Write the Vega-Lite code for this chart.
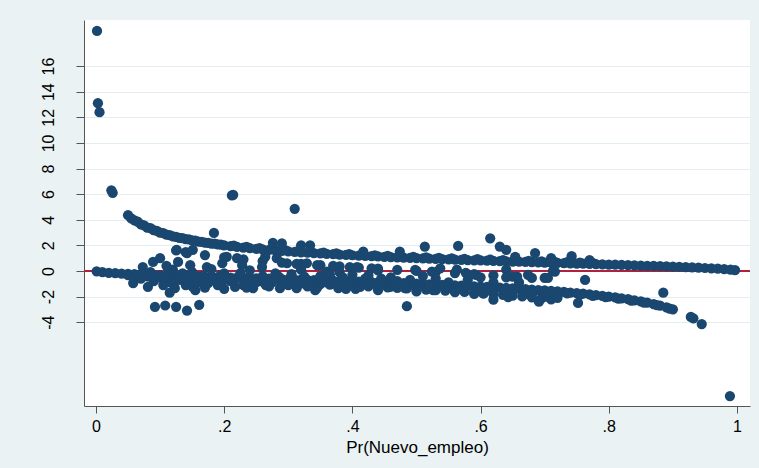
{
  "$schema": "https://vega.github.io/schema/vega-lite/v6.json",
  "width": 666,
  "height": 386,
  "autosize": {"type": "none"},
  "padding": {"left": 84, "top": 20, "right": 9, "bottom": 62},
  "background": "#eaf2f3",
  "config": {
    "view": {"fill": "white", "stroke": null},
    "font": "Liberation Sans"
  },
  "data": {
    "values": [
      {"p":0.0016,"r":18.75},{"p":0.003,"r":13.1},{"p":0.0055,"r":12.4},{"p":0.024,"r":6.3},{"p":0.026,"r":6.1},
      {"p":0.05,"r":4.359},{"p":0.06,"r":3.958},{"p":0.07,"r":3.645},{"p":0.08,"r":3.391},{"p":0.09,"r":3.18},{"p":0.10,"r":3.0},
      {"p":0.11,"r":2.844},{"p":0.12,"r":2.708},{"p":0.13,"r":2.587},{"p":0.14,"r":2.478},{"p":0.15,"r":2.38},{"p":0.16,"r":2.291},
      {"p":0.17,"r":2.21},{"p":0.18,"r":2.134},{"p":0.19,"r":2.065},{"p":0.20,"r":2.0},{"p":0.21,"r":1.94},{"p":0.22,"r":1.883},
      {"p":0.23,"r":1.83},{"p":0.24,"r":1.78},{"p":0.25,"r":1.732},{"p":0.26,"r":1.687},{"p":0.27,"r":1.644},{"p":0.28,"r":1.604},
      {"p":0.29,"r":1.565},{"p":0.30,"r":1.528},{"p":0.31,"r":1.492},{"p":0.32,"r":1.458},{"p":0.33,"r":1.425},{"p":0.34,"r":1.393},
      {"p":0.35,"r":1.363},{"p":0.36,"r":1.333},{"p":0.37,"r":1.305},{"p":0.38,"r":1.277},{"p":0.39,"r":1.251},{"p":0.40,"r":1.225},
      {"p":0.41,"r":1.2},{"p":0.42,"r":1.175},{"p":0.43,"r":1.151},{"p":0.44,"r":1.128},{"p":0.45,"r":1.106},{"p":0.46,"r":1.083},
      {"p":0.47,"r":1.062},{"p":0.48,"r":1.041},{"p":0.49,"r":1.02},{"p":0.50,"r":1.0},{"p":0.51,"r":0.98},{"p":0.52,"r":0.961},
      {"p":0.53,"r":0.942},{"p":0.54,"r":0.923},{"p":0.55,"r":0.905},{"p":0.56,"r":0.886},{"p":0.57,"r":0.869},{"p":0.58,"r":0.851},
      {"p":0.59,"r":0.834},{"p":0.60,"r":0.816},{"p":0.61,"r":0.8},{"p":0.62,"r":0.783},{"p":0.63,"r":0.766},{"p":0.64,"r":0.75},
      {"p":0.65,"r":0.734},{"p":0.66,"r":0.718},{"p":0.67,"r":0.702},{"p":0.68,"r":0.686},{"p":0.69,"r":0.67},{"p":0.70,"r":0.655},
      {"p":0.71,"r":0.639},{"p":0.72,"r":0.624},{"p":0.73,"r":0.608},{"p":0.74,"r":0.593},{"p":0.75,"r":0.577},{"p":0.76,"r":0.562},
      {"p":0.77,"r":0.547},{"p":0.78,"r":0.531},{"p":0.79,"r":0.516},{"p":0.80,"r":0.5},{"p":0.81,"r":0.484},{"p":0.82,"r":0.469},
      {"p":0.83,"r":0.453},{"p":0.84,"r":0.436},{"p":0.85,"r":0.42},{"p":0.86,"r":0.403},{"p":0.87,"r":0.387},{"p":0.88,"r":0.369},
      {"p":0.89,"r":0.352},{"p":0.90,"r":0.333},{"p":0.91,"r":0.314},{"p":0.92,"r":0.295},{"p":0.93,"r":0.274},{"p":0.94,"r":0.253},
      {"p":0.95,"r":0.229},{"p":0.96,"r":0.204},{"p":0.97,"r":0.176},{"p":0.98,"r":0.143},{"p":0.99,"r":0.1},{"p":0.997,"r":0.055},
      {"p":0.055,"r":4.1},{"p":0.065,"r":3.85},{"p":0.075,"r":3.55},{"p":0.085,"r":3.34},{"p":0.095,"r":3.12},{"p":0.105,"r":2.96},
      {"p":0.115,"r":2.8},{"p":0.125,"r":2.66},{"p":0.135,"r":2.56},{"p":0.145,"r":2.46},{"p":0.155,"r":2.36},{"p":0.165,"r":2.27},
      {"p":0.175,"r":2.2},{"p":0.185,"r":2.13},{"p":0.195,"r":2.06},{"p":0.215,"r":1.98},{"p":0.235,"r":1.88},{"p":0.255,"r":1.79},
      {"p":0.275,"r":1.7},{"p":0.295,"r":1.63},{"p":0.315,"r":1.55},{"p":0.335,"r":1.49},{"p":0.355,"r":1.43},{"p":0.375,"r":1.37},
      {"p":0.395,"r":1.32},{"p":0.415,"r":1.27},{"p":0.435,"r":1.22},{"p":0.455,"r":1.18},{"p":0.475,"r":1.14},{"p":0.495,"r":1.1},
      {"p":0.515,"r":1.06},{"p":0.535,"r":1.02},{"p":0.555,"r":0.99},{"p":0.575,"r":0.95},{"p":0.595,"r":0.92},{"p":0.615,"r":0.88},
      {"p":0.635,"r":0.85},{"p":0.655,"r":0.81},{"p":0.675,"r":0.78},{"p":0.695,"r":0.75},{"p":0.715,"r":0.72},{"p":0.735,"r":0.68},
      {"p":0.755,"r":0.65},{"p":0.775,"r":0.62},

      {"p":0.001,"r":-0.03},{"p":0.01,"r":-0.1},{"p":0.02,"r":-0.143},{"p":0.03,"r":-0.176},{"p":0.04,"r":-0.204},{"p":0.05,"r":-0.229},
      {"p":0.06,"r":-0.253},{"p":0.07,"r":-0.274},{"p":0.08,"r":-0.295},{"p":0.09,"r":-0.314},{"p":0.10,"r":-0.333},{"p":0.11,"r":-0.352},
      {"p":0.12,"r":-0.369},{"p":0.13,"r":-0.387},{"p":0.14,"r":-0.403},{"p":0.15,"r":-0.42},{"p":0.16,"r":-0.436},{"p":0.17,"r":-0.453},
      {"p":0.18,"r":-0.469},{"p":0.19,"r":-0.484},{"p":0.20,"r":-0.5},{"p":0.21,"r":-0.516},{"p":0.22,"r":-0.531},{"p":0.23,"r":-0.547},
      {"p":0.24,"r":-0.562},{"p":0.25,"r":-0.577},{"p":0.26,"r":-0.593},{"p":0.27,"r":-0.608},{"p":0.28,"r":-0.624},{"p":0.29,"r":-0.639},
      {"p":0.30,"r":-0.655},{"p":0.31,"r":-0.67},{"p":0.32,"r":-0.686},{"p":0.33,"r":-0.702},{"p":0.34,"r":-0.718},{"p":0.35,"r":-0.734},
      {"p":0.36,"r":-0.75},{"p":0.37,"r":-0.766},{"p":0.38,"r":-0.783},{"p":0.39,"r":-0.8},{"p":0.40,"r":-0.816},{"p":0.41,"r":-0.834},
      {"p":0.42,"r":-0.851},{"p":0.43,"r":-0.869},{"p":0.44,"r":-0.886},{"p":0.45,"r":-0.905},{"p":0.46,"r":-0.923},{"p":0.47,"r":-0.942},
      {"p":0.48,"r":-0.961},{"p":0.49,"r":-0.98},{"p":0.50,"r":-1.0},{"p":0.51,"r":-1.02},{"p":0.52,"r":-1.041},{"p":0.53,"r":-1.062},
      {"p":0.54,"r":-1.083},{"p":0.55,"r":-1.106},{"p":0.56,"r":-1.128},{"p":0.57,"r":-1.151},{"p":0.58,"r":-1.175},{"p":0.59,"r":-1.2},
      {"p":0.60,"r":-1.225},{"p":0.61,"r":-1.251},{"p":0.62,"r":-1.277},{"p":0.63,"r":-1.305},{"p":0.64,"r":-1.333},{"p":0.65,"r":-1.363},
      {"p":0.66,"r":-1.393},{"p":0.67,"r":-1.425},{"p":0.68,"r":-1.458},{"p":0.69,"r":-1.492},{"p":0.70,"r":-1.528},{"p":0.71,"r":-1.565},
      {"p":0.72,"r":-1.604},{"p":0.73,"r":-1.644},{"p":0.74,"r":-1.687},{"p":0.75,"r":-1.732},{"p":0.76,"r":-1.78},{"p":0.77,"r":-1.83},
      {"p":0.78,"r":-1.883},{"p":0.79,"r":-1.94},{"p":0.80,"r":-2.0},{"p":0.81,"r":-2.065},{"p":0.82,"r":-2.134},{"p":0.83,"r":-2.21},
      {"p":0.84,"r":-2.291},{"p":0.85,"r":-2.38},{"p":0.86,"r":-2.478},{"p":0.87,"r":-2.587},{"p":0.88,"r":-2.708},{"p":0.89,"r":-2.844},
      {"p":0.90,"r":-3.0},{"p":0.928,"r":-3.59},{"p":0.932,"r":-3.7},{"p":0.945,"r":-4.15},{"p":0.989,"r":-9.77},
      {"p":0.735,"r":-1.76},{"p":0.755,"r":-1.85},{"p":0.775,"r":-1.95},{"p":0.795,"r":-2.05},{"p":0.815,"r":-2.17},{"p":0.835,"r":-2.32},
      {"p":0.855,"r":-2.47},{"p":0.875,"r":-2.68},{"p":0.895,"r":-2.95},

      {"p":0.05,"r":-0.324},{"p":0.065,"r":-0.373},{"p":0.08,"r":-0.417},{"p":0.095,"r":-0.458},{"p":0.11,"r":-0.497},{"p":0.125,"r":-0.535},
      {"p":0.14,"r":-0.571},{"p":0.155,"r":-0.606},{"p":0.17,"r":-0.64},{"p":0.185,"r":-0.674},{"p":0.2,"r":-0.707},{"p":0.215,"r":-0.74},
      {"p":0.23,"r":-0.773},{"p":0.245,"r":-0.806},{"p":0.26,"r":-0.838},{"p":0.275,"r":-0.871},{"p":0.29,"r":-0.904},{"p":0.305,"r":-0.937},
      {"p":0.32,"r":-0.97},{"p":0.335,"r":-1.004},{"p":0.35,"r":-1.038},{"p":0.365,"r":-1.072},{"p":0.38,"r":-1.107},{"p":0.395,"r":-1.143},
      {"p":0.41,"r":-1.179},{"p":0.425,"r":-1.216},{"p":0.44,"r":-1.254},{"p":0.455,"r":-1.292},{"p":0.47,"r":-1.332},{"p":0.485,"r":-1.372},
      {"p":0.5,"r":-1.414},{"p":0.515,"r":-1.457},{"p":0.53,"r":-1.502},{"p":0.545,"r":-1.548},{"p":0.56,"r":-1.595},{"p":0.575,"r":-1.645},
      {"p":0.59,"r":-1.697},{"p":0.605,"r":-1.75},{"p":0.62,"r":-1.806},{"p":0.635,"r":-1.865},{"p":0.65,"r":-1.927},{"p":0.665,"r":-1.992},
      {"p":0.68,"r":-2.062},{"p":0.695,"r":-2.135},{"p":0.71,"r":-2.213},

      {"p":0.125,"r":1.604},{"p":0.14,"r":1.467},{"p":0.17,"r":1.242},{"p":0.2,"r":1.061},{"p":0.23,"r":0.907},{"p":0.26,"r":0.774},
      {"p":0.29,"r":0.654},{"p":0.32,"r":0.546},{"p":0.35,"r":0.445},{"p":0.38,"r":0.35},{"p":0.41,"r":0.259},{"p":0.44,"r":0.171},
      {"p":0.47,"r":0.085},{"p":0.5,"r":0.0},{"p":0.53,"r":-0.085},{"p":0.56,"r":-0.171},{"p":0.59,"r":-0.259},{"p":0.62,"r":-0.35},
      {"p":0.65,"r":-0.445},{"p":0.68,"r":-0.546},

      {"p":0.212,"r":5.9},{"p":0.214,"r":5.95},{"p":0.31,"r":4.85},{"p":0.184,"r":2.97},
      {"p":0.276,"r":2.2},{"p":0.29,"r":2.15},{"p":0.32,"r":2.0},{"p":0.334,"r":2.0},{"p":0.513,"r":1.9},{"p":0.565,"r":1.95},
      {"p":0.615,"r":2.55},{"p":0.63,"r":1.9},{"p":0.64,"r":1.65},{"p":0.685,"r":1.4},{"p":0.654,"r":1.1},{"p":0.71,"r":1.0},
      {"p":0.742,"r":1.15},{"p":0.77,"r":0.85},
      {"p":0.498,"r":0.08},{"p":0.524,"r":-0.05},{"p":0.537,"r":0.2},{"p":0.563,"r":0.1},{"p":0.577,"r":-0.15},{"p":0.593,"r":-0.3},
      {"p":0.64,"r":0.1},{"p":0.64,"r":-0.5},{"p":0.657,"r":-0.45},{"p":0.674,"r":-0.3},{"p":0.70,"r":-0.55},{"p":0.713,"r":0.0},
      {"p":0.763,"r":-0.7},{"p":0.885,"r":-1.7},{"p":0.71,"r":0.7},{"p":0.716,"r":-0.05},{"p":0.705,"r":-0.55},
      {"p":0.485,"r":-2.75},{"p":0.526,"r":-1.5},{"p":0.56,"r":-1.65},{"p":0.59,"r":-1.8},{"p":0.604,"r":-1.75},{"p":0.62,"r":-2.25},
      {"p":0.643,"r":-2.05},{"p":0.68,"r":-1.85},{"p":0.691,"r":-2.4},{"p":0.703,"r":-2.0},{"p":0.72,"r":-2.1},{"p":0.752,"r":-2.5},
      {"p":0.092,"r":-2.8},{"p":0.108,"r":-2.7},{"p":0.125,"r":-2.8},{"p":0.142,"r":-3.1},{"p":0.161,"r":-2.65},
      {"p":0.073,"r":0.3},{"p":0.089,"r":0.7},{"p":0.1,"r":1.0},{"p":0.11,"r":0.4},{"p":0.126,"r":1.65},{"p":0.128,"r":0.7},
      {"p":0.147,"r":0.45},{"p":0.142,"r":1.4},{"p":0.151,"r":1.65},{"p":0.173,"r":0.3},{"p":0.197,"r":0.6},{"p":0.204,"r":1.1},
      {"p":0.22,"r":1.0},{"p":0.228,"r":0.45},{"p":0.259,"r":0.3},{"p":0.264,"r":1.1},{"p":0.282,"r":1.0},{"p":0.298,"r":0.6},
      {"p":0.313,"r":0.55},{"p":0.329,"r":0.6},{"p":0.345,"r":0.45},{"p":0.36,"r":-0.05},{"p":0.37,"r":0.4},{"p":0.396,"r":0.3},
      {"p":0.407,"r":0.3},{"p":0.43,"r":0.2},{"p":0.417,"r":1.5},{"p":0.474,"r":1.5},
      {"p":0.058,"r":-0.95},{"p":0.081,"r":-1.25},{"p":0.115,"r":-1.7},{"p":0.123,"r":-1.35},{"p":0.151,"r":-1.25},{"p":0.189,"r":-0.95},
      {"p":0.217,"r":-1.25},{"p":0.245,"r":-1.35},{"p":0.287,"r":-1.35},{"p":0.313,"r":-1.35},{"p":0.342,"r":-1.5},{"p":0.378,"r":-1.35},
      {"p":0.412,"r":-1.25},{"p":0.459,"r":-1.25},{"p":0.482,"r":-1.35},
      {"p":0.07,"r":-0.6},{"p":0.09,"r":-0.8},{"p":0.1,"r":-0.5},{"p":0.12,"r":-1.0},{"p":0.13,"r":-0.7},{"p":0.14,"r":-1.1},
      {"p":0.16,"r":-0.9},{"p":0.17,"r":-1.3},{"p":0.18,"r":-0.6},{"p":0.19,"r":-1.1},{"p":0.21,"r":-0.8},{"p":0.23,"r":-1.1},
      {"p":0.25,"r":-0.9},{"p":0.27,"r":-1.2},{"p":0.3,"r":-1.1},{"p":0.33,"r":-1.2},{"p":0.36,"r":-0.9},{"p":0.39,"r":-1.4},
      {"p":0.42,"r":-0.6},{"p":0.44,"r":-1.5},{"p":0.46,"r":-0.5},{"p":0.5,"r":-1.6},{"p":0.53,"r":-0.6},{"p":0.57,"r":-1.4},
      {"p":0.6,"r":-0.5},{"p":0.12,"r":0.1},{"p":0.15,"r":-0.1},{"p":0.18,"r":0.15},{"p":0.2,"r":-0.2},{"p":0.24,"r":0.05},
      {"p":0.28,"r":-0.2},{"p":0.32,"r":0.1},{"p":0.38,"r":-0.1},{"p":0.44,"r":0.05},{"p":0.08,"r":-0.4},{"p":0.11,"r":-0.9},
      {"p":0.135,"r":-0.2},{"p":0.155,"r":-1.5},{"p":0.165,"r":-0.4},{"p":0.2,"r":-1.4},{"p":0.26,"r":-0.4},{"p":0.35,"r":-0.4},
      {"p":0.4,"r":-0.3},{"p":0.47,"r":-0.8},{"p":0.52,"r":-1.2},{"p":0.55,"r":-0.9},{"p":0.62,"r":-0.9},
      {"p":0.085,"r":-0.1},{"p":0.105,"r":-1.1},{"p":0.145,"r":-0.75},{"p":0.175,"r":-0.95},{"p":0.195,"r":-0.3},{"p":0.225,"r":-0.2},
      {"p":0.235,"r":-1.3},{"p":0.265,"r":-1.1},{"p":0.285,"r":-0.45},{"p":0.305,"r":-0.25},{"p":0.325,"r":-0.45},{"p":0.345,"r":-1.3},
      {"p":0.365,"r":-0.3},{"p":0.385,"r":-0.5},{"p":0.405,"r":-1.4},{"p":0.425,"r":-0.35},{"p":0.445,"r":-0.6},{"p":0.465,"r":-1.1},
      {"p":0.49,"r":-0.7},{"p":0.51,"r":-0.4},{"p":0.545,"r":-1.3},{"p":0.58,"r":-0.7},{"p":0.61,"r":-1.5},{"p":0.66,"r":-0.9}
    ]
  },
  "layer": [
    {
      "mark": {"type": "rule", "color": "#b0213f", "strokeWidth": 1},
      "encoding": {"y": {"datum": 0, "type": "quantitative", "scale": {"domain": [-10.55, 19.6], "nice": false, "zero": false}}}
    },
    {
      "mark": {"type": "circle", "color": "#1a476f", "opacity": 1, "size": 105},
      "encoding": {
        "x": {
          "field": "p", "type": "quantitative",
          "scale": {"domain": [-0.0187, 1.0203], "nice": false, "zero": false},
          "axis": {
            "title": "Pr(Nuevo_empleo)",
            "values": [0, 0.2, 0.4, 0.6, 0.8, 1],
            "tickCount": 20,
            "labelExpr": "replace(toString(datum.value), '0.', '.')",
            "grid": false,
            "domainColor": "#555555", "tickColor": "#555555",
            "tickSize": 7, "labelPadding": 5,
            "labelFontSize": 16, "labelColor": "#000000",
            "titleFontSize": 17, "titleFontWeight": "normal", "titleColor": "#000000", "titlePadding": 5
          }
        },
        "y": {
          "field": "r", "type": "quantitative",
          "scale": {"domain": [-10.55, 19.6], "nice": false, "zero": false},
          "axis": {
            "title": null,
            "values": [-4, -2, 0, 2, 4, 6, 8, 10, 12, 14, 16],
            "tickCount": 30,
            "labelExpr": "toString(datum.value)",
            "labelOverlap": false, "labelBound": false, "labelFlush": false,
            "grid": true, "gridColor": "#e3ecef", "gridWidth": 1.2,
            "domainColor": "#555555", "tickColor": "#555555",
            "tickSize": 8, "labelPadding": 20, "labelAngle": -90,
            "labelFontSize": 16, "labelColor": "#000000"
          }
        }
      }
    }
  ]
}
